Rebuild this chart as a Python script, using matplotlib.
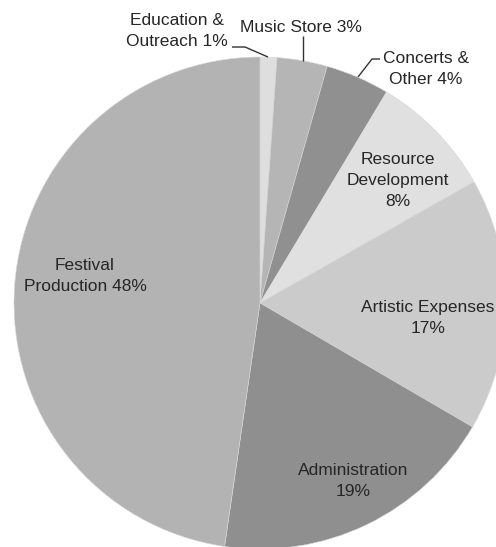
import matplotlib
matplotlib.use("Agg")
import matplotlib.pyplot as plt

# Data (clockwise from top)
categories = ["Education & Outreach", "Music Store", "Concerts & Other",
              "Resource Development", "Artistic Expenses", "Administration",
              "Festival Production"]
values = [1.1, 3.3, 4.2, 8.2, 16.6, 18.9, 47.7]
label_texts = ["Education &\nOutreach 1%", "Music Store 3%", "Concerts &\nOther 4%",
               "Resource\nDevelopment\n8%", "Artistic Expenses\n17%",
               "Administration\n19%", "Festival\nProduction 48%"]
colors = ["#dedede", "#b5b5b5", "#8f908f", "#e0e0e0", "#cbcbcb", "#8e8f8e", "#b3b3b3"]

W, H = 496, 547
fig = plt.figure(figsize=(W / 100, H / 100), dpi=100)
ax = fig.add_axes([0, 0, 1, 1])

cx, cy_img, R = 260, 303, 246
ax.pie(values, colors=colors, startangle=90, counterclock=False,
       center=(cx, H - cy_img), radius=R, frame=False,
       wedgeprops=dict(linewidth=0.4, edgecolor="#d8d8d8"))
ax.set_xlim(0, W)
ax.set_ylim(0, H)
ax.set_aspect("equal")
ax.axis("off")

font = dict(family=["Liberation Sans", "DejaVu Sans"], fontsize=12.5, color="#262626",
            ha="center", va="center", linespacing=1.5)

# label positions in image pixel coords (x, y from top)
label_pos = [(177, 31), (301, 27), (426, 69), (398, 181), (428, 318),
             (353, 481), (85, 276)]
for txt, (x, y) in zip(label_texts, label_pos):
    ax.text(x, H - y, txt, **font)

# leader lines (image coords)
leaders = [
    [(232, 47), (245, 47), (268, 57)],
    [(303, 36), (303, 61)],
    [(380, 59), (372, 59), (358, 77)],
]
for pts in leaders:
    xs = [p[0] for p in pts]
    ys = [H - p[1] for p in pts]
    ax.plot(xs, ys, color="#333333", linewidth=1.0, solid_capstyle="butt")

fig.savefig("out.png", dpi=100)
